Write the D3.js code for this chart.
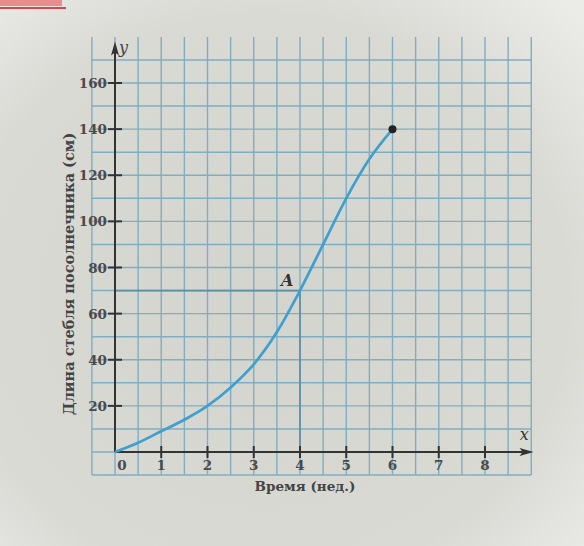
<!DOCTYPE html>
<html><head><meta charset="utf-8">
<script src="https://cdn.jsdelivr.net/npm/d3@7"></script>
<style>body{margin:0;background:#d9d9d3}svg{display:block}</style>
</head><body>
<svg id="c" width="584" height="546"></svg>
<script>
const weeks = [0,0.5,1,1.5,2,2.5,3,3.5,4,4.5,5,5.5,6];
const lengthCm = [0,4,9,14,20,28,38,52,70,90,110,127,140];
const xTicks = [0,1,2,3,4,5,6,7,8];
const yTicks = [20,40,60,80,100,120,140,160];
const pointA = {x:4, y:70, label:"A"};
const xTitle = "Время (нед.)";
const yTitle = "Длина стебля посолнечника (см)";

const svg = d3.select("#c");
const x = d3.scaleLinear().domain([0,8]).range([115,485]);
const y = d3.scaleLinear().domain([0,160]).range([452,83]);

// background
const bg = svg.append("defs").append("radialGradient").attr("id","bg").attr("cx","45%").attr("cy","55%").attr("r","75%");
bg.append("stop").attr("offset","0%").attr("stop-color","#d4d4ce");
bg.append("stop").attr("offset","70%").attr("stop-color","#dadad5");
bg.append("stop").attr("offset","100%").attr("stop-color","#ebebe8");
svg.append("rect").attr("width",584).attr("height",546).attr("fill","url(#bg)");
svg.append("rect").attr("x",0).attr("y",0).attr("width",62).attr("height",6).attr("fill","#e88c8c");
svg.append("rect").attr("x",0).attr("y",7).attr("width",66).attr("height",2).attr("fill","#d94848");

// grid
const gx = d3.range(-0.5, 9.01, 0.5);
const gy = d3.range(-10, 180.1, 10);
const grid = svg.append("g").attr("stroke","#80adbf").attr("stroke-width",1.4);
grid.selectAll("line.v").data(gx).join("line")
  .attr("x1",d=>x(d)).attr("x2",d=>x(d)).attr("y1",y(180)).attr("y2",y(-10));
grid.selectAll("line.h").data(gy.filter(d=>d<180)).join("line")
  .attr("y1",d=>y(d)).attr("y2",d=>y(d)).attr("x1",x(-0.5)).attr("x2",x(9));

// A guide lines
svg.append("path").attr("fill","none").attr("stroke","#5a90a6").attr("stroke-width",1.7)
  .attr("d",`M${x(0)},${y(pointA.y)}H${x(pointA.x)}V${y(0)}`);

// axes
const ax = svg.append("g").attr("stroke","#333").attr("stroke-width",2);
ax.append("line").attr("x1",x(0)).attr("x2",x(0)).attr("y1",y(0)).attr("y2",y(176));
ax.append("line").attr("x1",x(0)).attr("x2",x(8.95)).attr("y1",y(0)).attr("y2",y(0));
svg.append("path").attr("fill","#333")
  .attr("d",`M${x(0)},${y(178)}l-4,14l4,-3l4,3z`);
svg.append("path").attr("fill","#333")
  .attr("d",`M${x(9.05)},${y(0)}l-14,-4l3,4l-3,4z`);

ax.selectAll("line.yt").data(yTicks).join("line")
  .attr("x1",x(0)-7).attr("x2",x(0)+7).attr("y1",d=>y(d)).attr("y2",d=>y(d));
ax.selectAll("line.xt").data(xTicks.slice(1)).join("line")
  .attr("x1",d=>x(d)).attr("x2",d=>x(d)).attr("y1",y(0)-6).attr("y2",y(0)+6);

const font = "'DejaVu Serif','Liberation Serif',serif";
svg.append("g").selectAll("text").data(yTicks).join("text")
  .attr("x",x(0)-8).attr("y",d=>y(d)+5).attr("text-anchor","end")
  .attr("font-family",font).attr("font-weight","bold").attr("font-size",13.5).attr("fill","#4a4a4a")
  .text(d=>d);
svg.append("g").selectAll("text").data(xTicks).join("text")
  .attr("x",d=>x(d)+(d===0?7:0)).attr("y",y(0)+18).attr("text-anchor","middle")
  .attr("font-family",font).attr("font-weight","bold").attr("font-size",13.5).attr("fill","#4a4a4a")
  .text(d=>d);

svg.append("text").attr("x",x(0)+4).attr("y",y(173)).attr("font-family",font).attr("font-style","italic")
  .attr("font-size",16).attr("fill","#444").text("y");
svg.append("text").attr("x",x(8.75)).attr("y",y(5)).attr("font-family",font).attr("font-style","italic")
  .attr("font-size",16).attr("fill","#333").text("x");

svg.append("text").attr("x",305).attr("y",491).attr("text-anchor","middle")
  .attr("font-family",font).attr("font-weight","bold").attr("font-size",13.5).attr("fill","#444").text(xTitle);
svg.append("text").attr("transform","translate(74,274) rotate(-90)").attr("text-anchor","middle")
  .attr("font-family",font).attr("font-weight","bold").attr("font-size",14.5).attr("fill","#444").text(yTitle);

// curve
const line = d3.line().x((d,i)=>x(weeks[i])).y(d=>y(d)).curve(d3.curveMonotoneX);
svg.append("path").datum(lengthCm).attr("fill","none").attr("stroke","#3f9fcf").attr("stroke-width",2.7)
  .attr("d",line);
svg.append("circle").attr("cx",x(weeks[weeks.length-1])).attr("cy",y(lengthCm[lengthCm.length-1]))
  .attr("r",4).attr("fill","#222");

svg.append("text").attr("x",x(pointA.x)-19).attr("y",y(pointA.y)-5)
  .attr("font-family",font).attr("font-style","italic").attr("font-weight","bold").attr("font-size",16).attr("fill","#333")
  .text(pointA.label);
</script>
</body></html>
